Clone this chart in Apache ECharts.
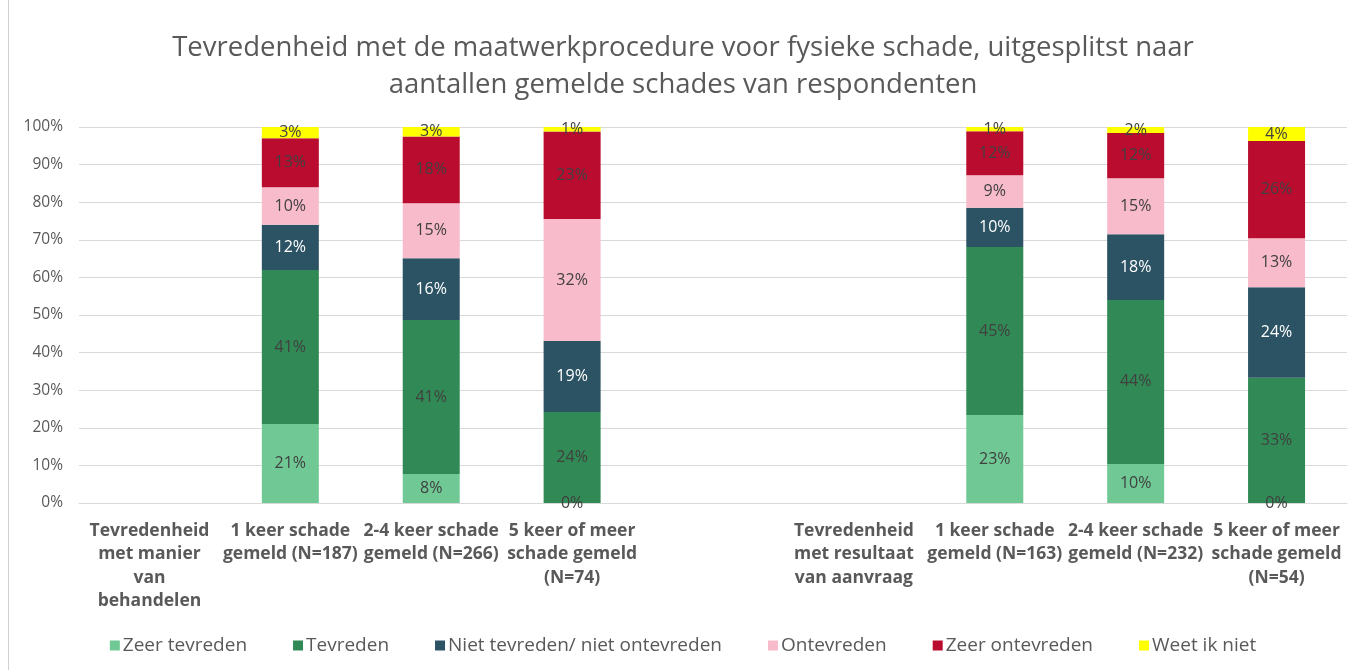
<!DOCTYPE html>
<html>
<head>
<meta charset="utf-8">
<script src="https://cdn.jsdelivr.net/npm/echarts@6/dist/echarts.min.js"></script>
<style>
  html, body { margin: 0; padding: 0; background: #fff; }
  #chart { position: absolute; left: 8px; top: 0; width: 1349px; height: 670px; border-left: 1px solid #d0d0d0; box-sizing: border-box; }
</style>
</head>
<body>
<div id="chart"></div>
<script>
const categories = [
  'Tevredenheid\nmet manier\nvan\nbehandelen',
  '1 keer schade\ngemeld (N=187)',
  '2-4 keer schade\ngemeld (N=266)',
  '5 keer of meer\nschade gemeld\n(N=74)',
  '',
  'Tevredenheid\nmet resultaat\nvan aanvraag',
  '1 keer schade\ngemeld (N=163)',
  '2-4 keer schade\ngemeld (N=232)',
  '5 keer of meer\nschade gemeld\n(N=54)'
];
const seriesNames = ['Zeer tevreden', 'Tevreden', 'Niet tevreden/ niet ontevreden', 'Ontevreden', 'Zeer ontevreden', 'Weet ik niet'];
const zeerTevreden   = [null, 21, 7.7, 0,    null, null, 23.4, 10.4, 0];
const tevreden       = [null, 41, 41.0, 24.2, null, null, 44.7, 43.6, 33.3];
const nietTevreden   = [null, 12, 16.4, 18.9, null, null, 10.4, 17.5, 24.1];
const ontevreden     = [null, 10, 14.6, 32.4, null, null, 8.7, 14.9, 13.0];
const zeerOntevreden = [null, 13, 17.8, 23.3, null, null, 11.7, 12.0, 25.9];
const weetIkNiet     = [null, 3,  2.5,  1.2,  null, null, 1.1,  1.6,  3.7];
const yTicks = [0, 10, 20, 30, 40, 50, 60, 70, 80, 90, 100];

const colors = ['#70c995', '#318a55', '#2c5364', '#f8bbcb', '#ba0c2f', '#ffff00'];
const labelColors = ['#404040', '#404040', '#ffffff', '#404040', '#404040', '#404040'];
const values = [zeerTevreden, tevreden, nietTevreden, ontevreden, zeerOntevreden, weetIkNiet];

const chart = echarts.init(document.getElementById('chart'));
const font = '"Open Sans", sans-serif';

chart.setOption({
  animation: false,
  textStyle: { fontFamily: font },
  title: {
    text: 'Tevredenheid met de maatwerkprocedure voor fysieke schade, uitgesplitst naar\naantallen gemelde schades van respondenten',
    left: 'center',
    top: 25,
    textStyle: { fontFamily: font, fontSize: 27.5, fontWeight: 'normal', color: '#595959', lineHeight: 37 }
  },
  legend: {
    bottom: 10,
    left: 'center',
    itemWidth: 10,
    itemHeight: 10,
    itemGap: 46,
    icon: 'rect',
    textStyle: { fontFamily: font, fontSize: 19, color: '#595959', padding: [0, 0, 0, -2] },
    data: seriesNames
  },
  grid: { left: 70, right: 10, top: 127, bottom: 167 },
  xAxis: {
    type: 'category',
    data: categories,
    axisTick: { show: false },
    axisLine: { lineStyle: { color: '#d9d9d9' } },
    axisLabel: {
      interval: 0,
      fontFamily: font,
      fontSize: 17.5,
      fontWeight: 'bold',
      color: '#595959',
      lineHeight: 23.5,
      margin: 16
    }
  },
  yAxis: {
    type: 'value',
    min: 0,
    max: 100,
    interval: 10,
    axisLabel: {
      fontFamily: font,
      fontSize: 15.5,
      color: '#595959',
      margin: 16,
      formatter: v => yTicks.includes(v) ? v + '%' : ''
    },
    splitLine: { lineStyle: { color: '#d9d9d9' } }
  },
  series: seriesNames.map((name, i) => ({
    name: name,
    type: 'bar',
    stack: 'total',
    barWidth: 57,
    itemStyle: { color: colors[i] },
    label: {
      show: true,
      position: 'inside',
      fontFamily: font,
      fontSize: 16,
      color: labelColors[i],
      formatter: p => p.value == null ? '' : Math.round(p.value) + '%'
    },
    data: values[i]
  }))
});
</script>
</body>
</html>
